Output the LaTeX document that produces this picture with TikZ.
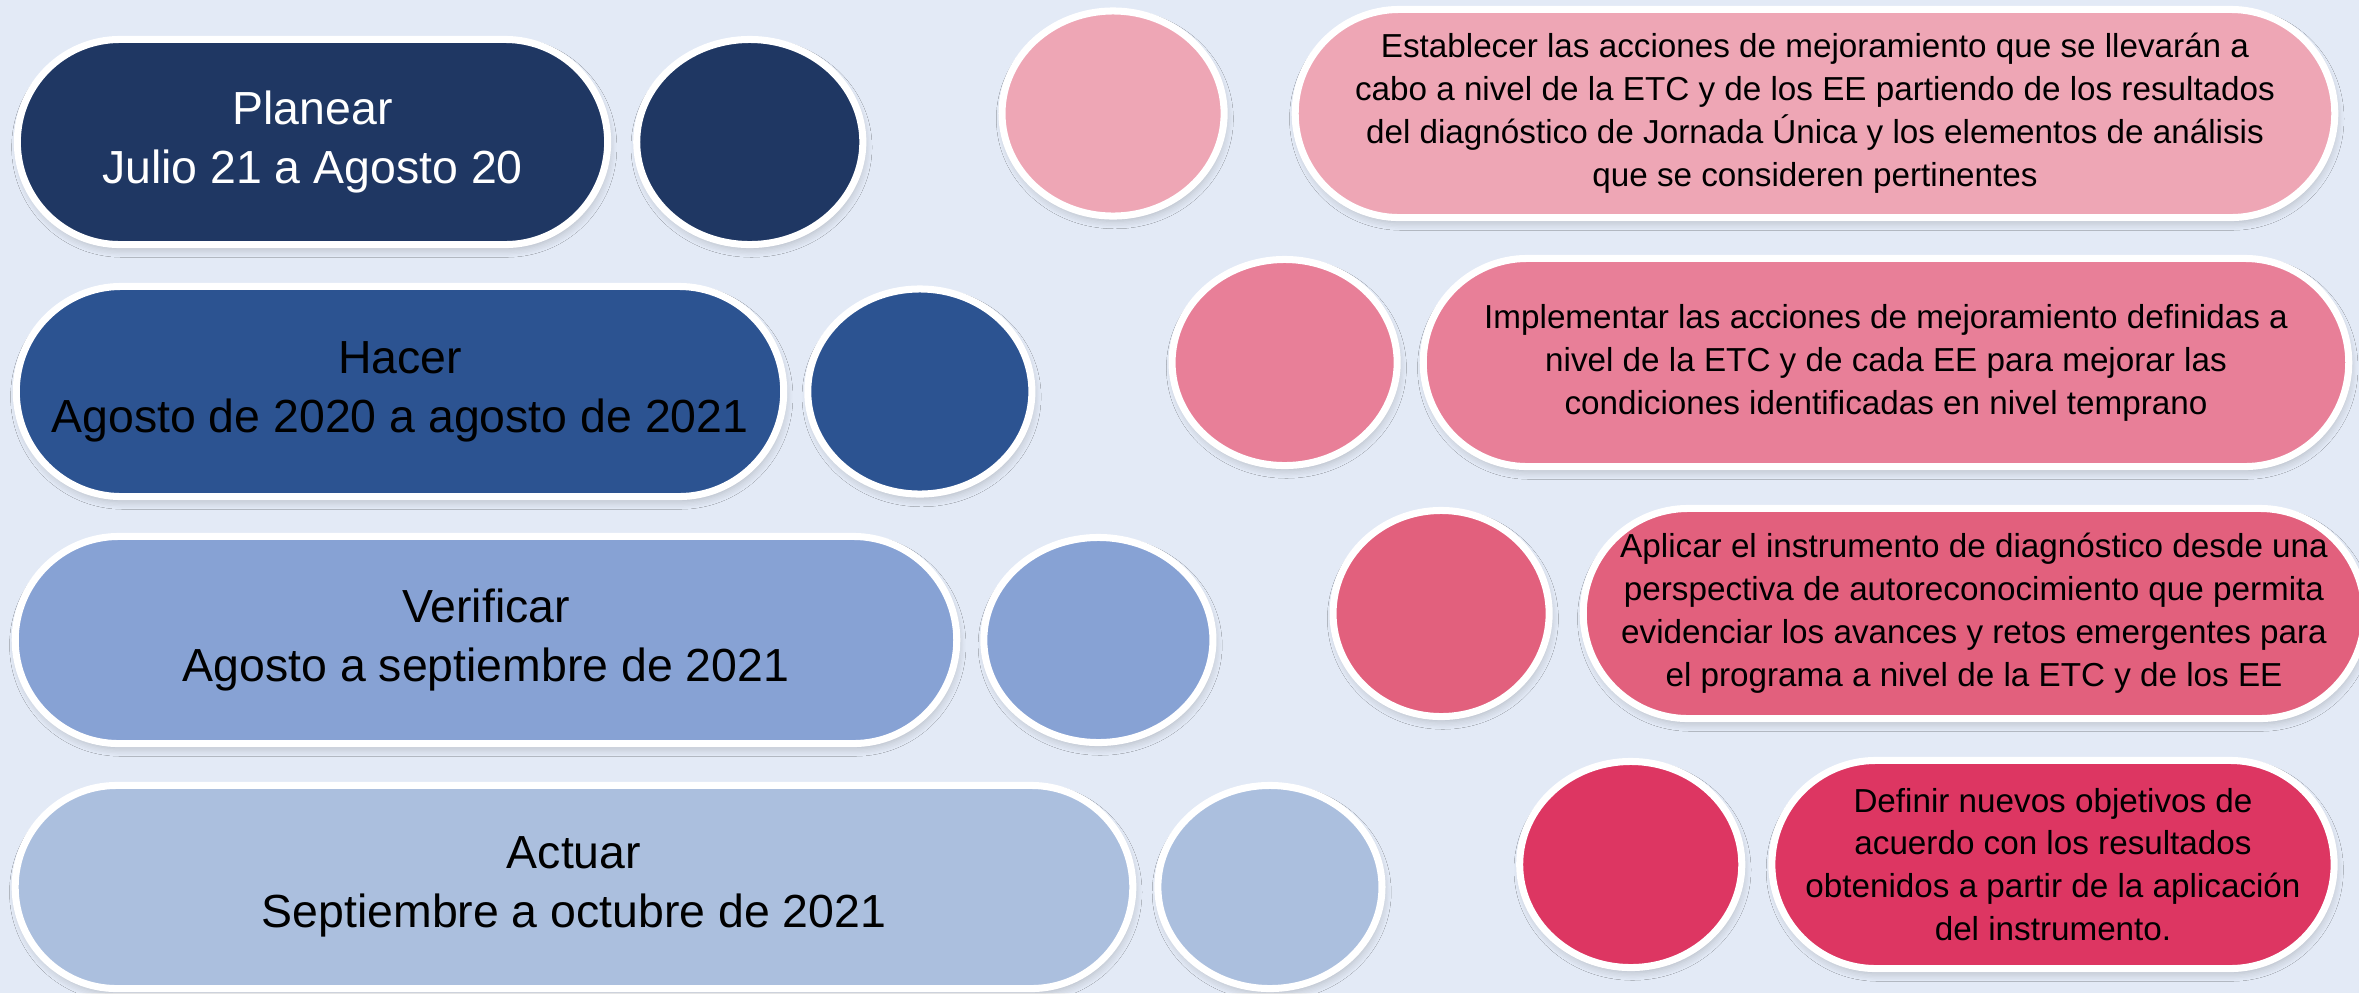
\documentclass[tikz,border=0pt]{standalone}
\usepackage{fontspec}
\setmainfont{Liberation Sans}
\usetikzlibrary{positioning,shapes.misc,shapes.geometric,shadows.blur}

\definecolor{bgBlue}{RGB}{227,234,246}
\definecolor{planBlue}{RGB}{31,55,99}
\definecolor{doBlue}{RGB}{44,83,145}
\definecolor{checkBlue}{RGB}{135,162,212}
\definecolor{actBlue}{RGB}{171,191,222}
\definecolor{roseA}{RGB}{238,166,181}
\definecolor{roseB}{RGB}{232,127,152}
\definecolor{roseC}{RGB}{226,96,125}
\definecolor{roseD}{RGB}{221,54,98}

\begin{document}
\begin{tikzpicture}[x=0.01cm, y=-0.01cm]
        \tikzset{PillStyle/.style={rounded rectangle, draw=white, line width=2pt,
            fill=#1, inner sep=0pt, align=center,
            blur shadow={shadow xshift=0.5pt, shadow yshift=-1.5pt,
              shadow blur steps=6, shadow opacity=20}}}
        \tikzset{DotStyle/.style={ellipse, draw=white, line width=2pt,
            fill=#1, inner sep=0pt,
            blur shadow={shadow xshift=0.5pt, shadow yshift=-1.5pt,
              shadow blur steps=6, shadow opacity=20}}}
        \tikzset{PhaseText/.style={font=\fontsize{13.2}{16.8}\selectfont}}
        \tikzset{TaskText/.style={font=\fontsize{9.45}{12.2}\selectfont}}

        \fill[bgBlue] (0,0) rectangle (2359,993);
        \useasboundingbox (0,0) rectangle (2359,993);

        % phases on the left
        \node[PillStyle=planBlue, PhaseText, text=white,
          minimum width=5.90cm, minimum height=2.05cm] (p1) at (312.5,142)
          {Planear\\Julio 21 a Agosto 20};
        \node[DotStyle=planBlue, minimum width=2.26cm, minimum height=2.05cm,
          right=0.22cm of p1] (c1) {};

        \node[PillStyle=doBlue, PhaseText,
          minimum width=7.67cm, minimum height=2.10cm] (p2) at (400,391.5)
          {Hacer\\Agosto de 2020 a agosto de 2021};
        \node[DotStyle=doBlue, minimum width=2.24cm, minimum height=2.05cm,
          right=0.17cm of p2] (c2) {};

        \node[PillStyle=checkBlue, PhaseText,
          minimum width=9.41cm, minimum height=2.07cm] (p3) at (486,640)
          {Verificar\\Agosto a septiembre de 2021};
        \node[DotStyle=checkBlue, minimum width=2.29cm, minimum height=2.05cm,
          right=0.20cm of p3] (c3) {};

        \node[PillStyle=actBlue, PhaseText,
          minimum width=11.17cm, minimum height=2.03cm] (p4) at (574,887)
          {Actuar\\Septiembre a octubre de 2021};
        \node[DotStyle=actBlue, minimum width=2.24cm, minimum height=2.03cm,
          right=0.18cm of p4] (c4) {};

        % tasks on the right
        \node[PillStyle=roseA, TaskText,
          minimum width=10.39cm, minimum height=2.08cm] (a1) at (1815,113.5)
          {Establecer las acciones de mejoramiento que se llevarán a\\
           cabo a nivel de la ETC y de los EE partiendo de los resultados\\
           del diagnóstico de Jornada Única y los elementos de análisis\\
           que se consideren pertinentes};
        \node[DotStyle=roseA, minimum width=2.22cm, minimum height=2.05cm,
          left=0.64cm of a1] (d1) {};

        \node[PillStyle=roseB, TaskText,
          minimum width=9.25cm, minimum height=2.08cm] (a2) at (1886,362.5)
          {Implementar las acciones de mejoramiento definidas a\\
           nivel de la ETC y de cada EE para mejorar las\\
           condiciones identificadas en nivel temprano};
        \node[DotStyle=roseB, minimum width=2.25cm, minimum height=2.06cm,
          left=0.19cm of a2] (d2) {};

        \node[PillStyle=roseC, TaskText,
          minimum width=7.55cm, minimum height=2.10cm] (a3) at (1974,613.5)
          {Aplicar el instrumento de diagnóstico desde una\\
           perspectiva de autoreconocimiento que permita\\
           evidenciar los avances y retos emergentes para\\
           el programa a nivel de la ETC y de los EE};
        \node[DotStyle=roseC, minimum width=2.16cm, minimum height=2.06cm,
          left=0.27cm of a3] (d3) {};

        \node[PillStyle=roseD, TaskText,
          minimum width=5.61cm, minimum height=2.08cm] (a4) at (2053,864.5)
          {Definir nuevos objetivos de\\
           acuerdo con los resultados\\
           obtenidos a partir de la aplicación\\
           del instrumento.};
        \node[DotStyle=roseD, minimum width=2.22cm, minimum height=2.06cm,
          left=0.23cm of a4] (d4) {};
\end{tikzpicture}
\end{document}
